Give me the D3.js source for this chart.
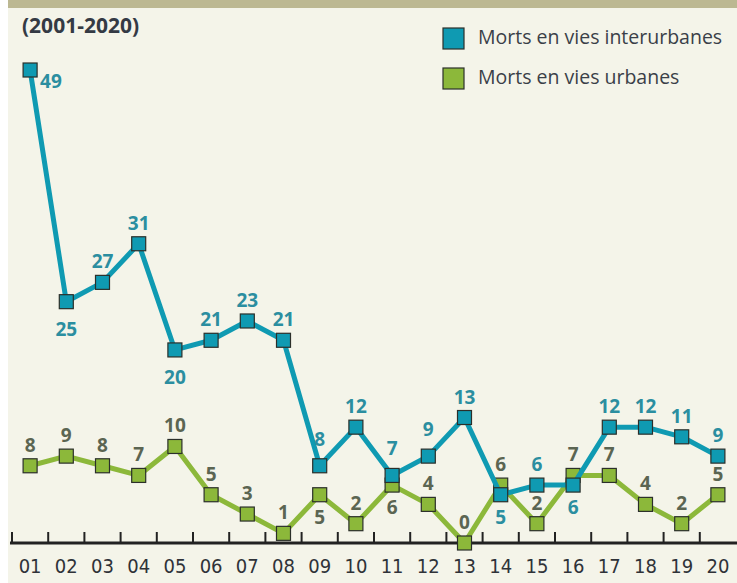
<!DOCTYPE html>
<html>
<head>
<meta charset="utf-8">
<script src="https://cdn.jsdelivr.net/npm/d3@7"></script>
<style>
  body { margin: 0; background: #fff; }
</style>
</head>
<body>
<div id="chart"></div>
<script>
// data
const years = ["01","02","03","04","05","06","07","08","09","10","11","12","13","14","15","16","17","18","19","20"];
const interurbanes = [49,25,27,31,20,21,23,21,8,12,7,9,13,5,6,6,12,12,11,9];
const urbanes = [8,9,8,7,10,5,3,1,5,2,6,4,0,6,2,7,7,4,2,5];
const seriesNames = ["Morts en vies interurbanes", "Morts en vies urbanes"];

// where each value label sits (a = above, A = higher above, b = below, B = lower below, r = right)
const posInter = ["r","B","a","a","B","a","a","a","A","a","A","A","a","b","a","b","a","a","a","a"];
const posUrb = ["a","a","a","a","a","a","a","a","b","a","b","a","a","a","a","a","a","a","a","a"];
const labelDy = { a: -14, A: -20, b: 29, B: 34, r: 18 };

const width = 737, height = 583;
const teal = "#0f9ab2", green = "#8cb83a";

const svg = d3.select("#chart")
  .append("svg")
  .attr("width", width)
  .attr("height", height)
  .style("display", "block");

// panel background
svg.append("rect").attr("x", 8).attr("y", 0).attr("width", width - 8).attr("height", height).attr("fill", "#f4f4e9");
svg.append("rect").attr("x", 8).attr("y", 0).attr("width", width - 8).attr("height", 8).attr("fill", "#bcb892");

let x = d3.scaleBand()
  .domain(years)
  .range([12, 736]);

let y = d3.scaleLinear()
  .domain([0, 49])
  .range([543, 70]);

// x axis
const axis = svg.append("g")
  .attr("transform", `translate(0,543)`);

axis.append("line")
  .attr("x1", 10).attr("x2", width)
  .attr("stroke", "#222").attr("stroke-width", 3);

axis.selectAll(".tick")
  .data(years)
  .join("line")
  .attr("x1", d => x(d)).attr("x2", d => x(d))
  .attr("y1", 0).attr("y2", -11)
  .attr("stroke", "#222").attr("stroke-width", 2);

axis.selectAll("text")
  .data(years)
  .join("text")
  .attr("x", d => x(d) + x.bandwidth() / 2)
  .attr("y", 30)
  .attr("text-anchor", "middle")
  .attr("font-family", "'Liberation Sans Narrow', 'DejaVu Sans Condensed', sans-serif")
  .attr("font-size", 20)
  .attr("fill", "#2f3238")
  .text(d => d);

const cx = d => x(d) + x.bandwidth() / 2;

function drawSeries(values, color, pos) {
  const pts = years.map((d, i) => ({ year: d, value: values[i], pos: pos[i] }));

  svg.append("path")
    .datum(pts)
    .attr("fill", "none")
    .attr("stroke", color)
    .attr("stroke-width", 5)
    .attr("stroke-linejoin", "round")
    .attr("d", d3.line().x(d => cx(d.year)).y(d => y(d.value)));

  svg.append("g")
    .selectAll("rect")
    .data(pts)
    .join("rect")
    .attr("x", d => cx(d.year) - 7)
    .attr("y", d => y(d.value) - 7)
    .attr("width", 14)
    .attr("height", 14)
    .attr("fill", color)
    .attr("stroke", "#2b2f2a")
    .attr("stroke-width", 1.2);

  return pts;
}

function drawLabels(pts, labelColor) {
  svg.append("g")
    .attr("font-family", "'Open Sans', sans-serif")
    .attr("font-weight", "bold")
    .attr("font-size", 19)
    .attr("fill", labelColor)
    .selectAll("text")
    .data(pts)
    .join("text")
    .attr("text-anchor", d => d.pos === "r" ? "start" : "middle")
    .attr("x", d => d.pos === "r" ? cx(d.year) + 10 : cx(d.year))
    .attr("y", d => y(d.value) + labelDy[d.pos])
    .text(d => d.value);
}

const urbPts = drawSeries(urbanes, green, posUrb);
const interPts = drawSeries(interurbanes, teal, posInter);
drawLabels(urbPts, "#5b6552");
drawLabels(interPts, "#2b8ea0");

// title
svg.append("text")
  .attr("x", 22).attr("y", 33)
  .attr("font-family", "'Open Sans', sans-serif")
  .attr("font-weight", "bold")
  .attr("font-size", 21)
  .attr("fill", "#343a44")
  .text("(2001-2020)");

// legend
const legend = svg.append("g")
  .selectAll("g")
  .data(seriesNames)
  .join("g")
  .attr("transform", (d, i) => `translate(443,${28 + i * 40})`);

legend.append("rect")
  .attr("width", 21).attr("height", 21)
  .attr("fill", (d, i) => i === 0 ? teal : green)
  .attr("stroke", "#2b2f2a").attr("stroke-width", 1.2);

legend.append("text")
  .attr("x", 35).attr("y", 16)
  .attr("font-family", "'Open Sans', sans-serif")
  .attr("font-size", 19.5)
  .attr("fill", "#3a3f48")
  .text(d => d);
</script>
</body>
</html>
